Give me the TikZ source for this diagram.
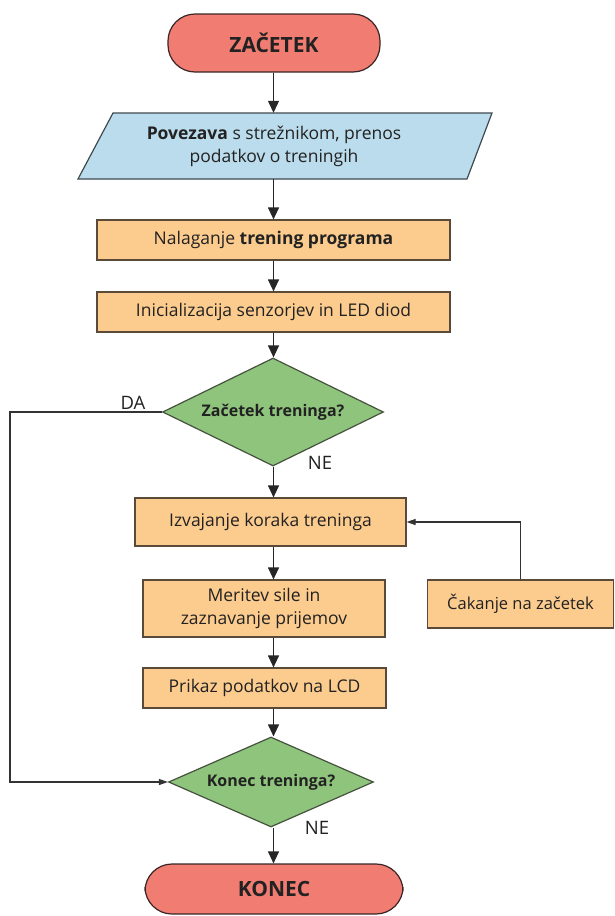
\documentclass[tikz,border=0pt]{standalone}
\usepackage{fontspec}
\setmainfont{Open Sans}
\usetikzlibrary{shapes.geometric,arrows.meta}
\definecolor{termfill}{HTML}{F17C72}
\definecolor{termline}{HTML}{3A2626}
\definecolor{parafill}{HTML}{BBDCEC}
\definecolor{paraline}{HTML}{3F4A50}
\definecolor{boxfill}{HTML}{FCCB8E}
\definecolor{boxline}{HTML}{5A4A3A}
\definecolor{decfill}{HTML}{8FC47C}
\definecolor{decline}{HTML}{45523E}
\definecolor{txtcol}{HTML}{222222}
\begin{document}
\begin{tikzpicture}[x=1pt,y=-1pt,
  font=\fontsize{17.5}{23}\selectfont, text=txtcol,
  termbox/.style={draw=termline, fill=termfill, line width=1.2pt, rounded corners=27pt, inner sep=0pt, font=\fontsize{21}{24}\selectfont\bfseries},
  procbox/.style={draw=boxline, fill=boxfill, line width=1.2pt, inner sep=0pt, align=center},
  decbox/.style={diamond, aspect=2.05, draw=decline, fill=decfill, line width=1.2pt, inner sep=0pt, font=\fontsize{16}{20}\selectfont\bfseries},
  lbl/.style={inner sep=0pt, font=\fontsize{18.5}{20}\selectfont},
  flow/.style={draw=black!85, line width=1.2pt, -{Triangle[width=11pt,length=12pt]}},
  sideflow/.style={draw=black!80, line width=1.1pt, -{Triangle[width=6pt,length=9pt]}}
]
\useasboundingbox (0,0) rectangle (615,916);
\fill[white] (0,0) rectangle (615,916);

\coordinate (col) at (273.5,0);
\coordinate (lft) at (10,0);

\node[termbox, minimum width=212pt, minimum height=58pt] (start) at (274,43) {ZAČETEK};

\filldraw[fill=parafill, draw=paraline, line width=1.2pt] (78,179) -- (113,113) -- (492,113) -- (467,179) -- cycle;
\node[inner sep=0pt, minimum height=66pt, align=center] (pov) at (274,146) {\textbf{Povezava} s strežnikom, prenos\\podatkov o treningih};

\node[procbox, minimum width=353pt, minimum height=40pt] (nal) at (273.5,240) {Nalaganje \textbf{trening programa}};
\node[procbox, minimum width=353pt, minimum height=40pt] (ini) at (273.5,312) {Inicializacija senzorjev in LED diod};

\node[decbox, minimum width=221pt, minimum height=108pt] (d1) at (273,412) {Začetek treninga?};

\node[procbox, minimum width=271pt, minimum height=48pt] (izv) at (270.5,522) {Izvajanje koraka treninga};
\node[procbox, minimum width=242pt, minimum height=57pt] (mer) at (264,608.5) {Meritev sile in\\zaznavanje prijemov};
\node[procbox, minimum width=243pt, minimum height=40pt] (pri) at (264.5,688) {Prikaz podatkov na LCD};
\node[procbox, minimum width=186pt, minimum height=48pt, font=\fontsize{16.5}{20}\selectfont] (cak) at (520.5,604) {Čakanje na začetek};

\node[decbox, minimum width=205pt, minimum height=90pt] (d2) at (271,782) {Konec treninga?};

\node[termbox, minimum width=258pt, minimum height=50pt] (end) at (274,889) {KONEC};

\node[lbl] (da) at (133,403) {DA};
\node[lbl] (ne1) at (320,463) {NE};
\node[lbl] (ne2) at (317,828) {NE};

\draw[flow] (start.south -| col) -- (pov.north -| col);
\draw[flow] (pov.south -| col) -- (nal.north -| col);
\draw[flow] (nal.south -| col) -- (ini.north -| col);
\draw[flow] (ini.south -| col) -- (d1.north -| col);
\draw[flow] (d1.south -| col) -- (izv.north -| col);
\draw[flow] (izv.south -| col) -- (mer.north -| col);
\draw[flow] (mer.south -| col) -- (pri.north -| col);
\draw[flow] (pri.south -| col) -- (d2.north -| col);
\draw[flow] (d2.south -| col) -- (end.north -| col);

\draw[sideflow] (d1.west) -- (d1.west -| lft) |- (d2.west);
\draw[sideflow] (cak.north) |- (izv.east);
\end{tikzpicture}
\end{document}
